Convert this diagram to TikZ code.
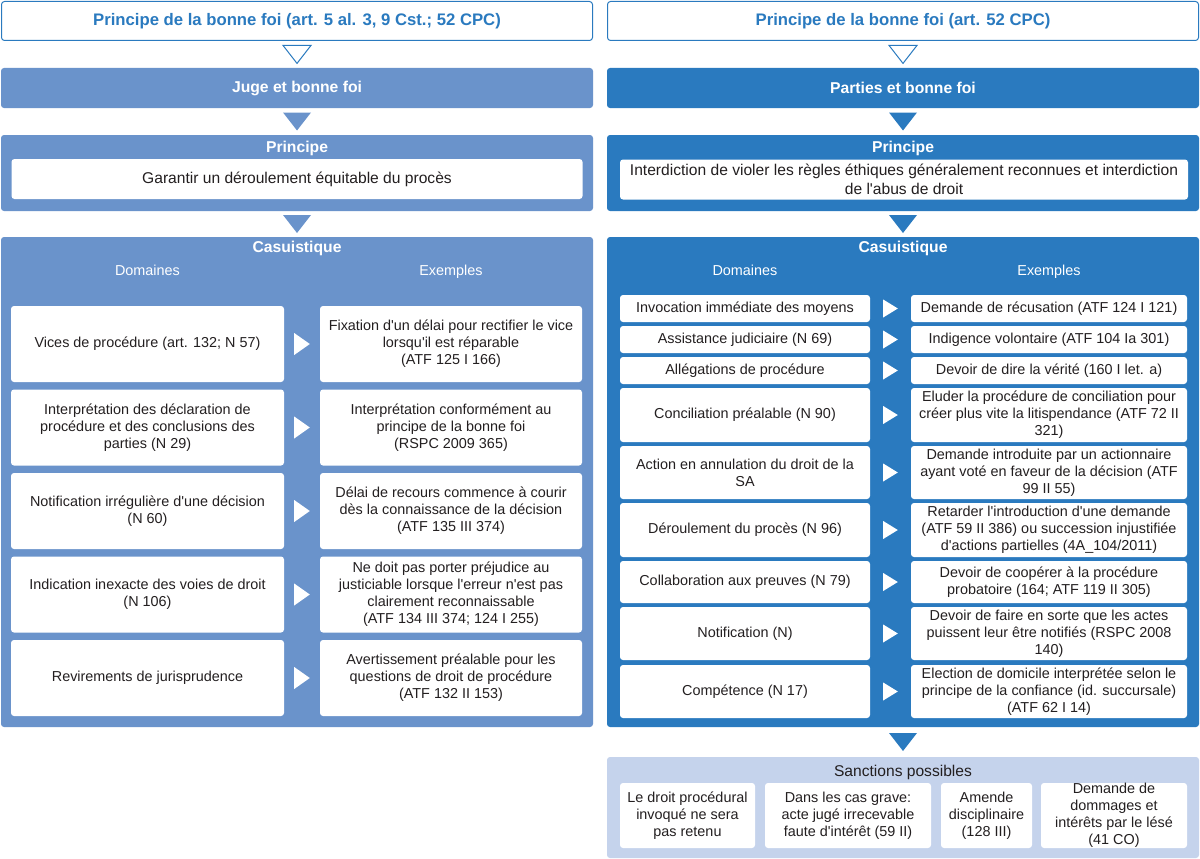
\documentclass[tikz,border=0pt]{standalone}
\usepackage{fontspec}
\setmainfont{Liberation Sans}[Ligatures=TeXOff]
\usetikzlibrary{calc}
\definecolor{bfmid}{RGB}{106,147,203}
\definecolor{bfdark}{RGB}{42,122,191}
\definecolor{bflight}{RGB}{197,211,236}
\definecolor{bftext}{RGB}{35,31,32}
\newcommand\tpfont{\fontsize{16.7}{19}\selectfont\bfseries}
\newcommand\hdfont{\fontsize{15.7}{18}\selectfont\bfseries}
\newcommand\prfont{\fontsize{15.6}{19.5}\selectfont}
\newcommand\bxfont{\fontsize{14.4}{17}\selectfont}
\tikzset{
  topbox/.style={draw=bfdark, line width=1pt, fill=white, rounded corners=3pt, text=bfdark,
    font=\tpfont, minimum width=591pt, minimum height=39pt, inner sep=0pt},
  panel/.style={fill=#1, rounded corners=3pt, inner sep=0pt, minimum width=592pt},
  wbox/.style={fill=white, rounded corners=3pt, inner sep=0pt, align=center, text=bftext, font=\bxfont},
  hd/.style={text=white, font=\hdfont, inner sep=0pt},
  sub/.style={text=white, font=\bxfont, inner sep=0pt, anchor=base},
}
\begin{document}
\begin{tikzpicture}[x=1pt,y=-1pt]
  \useasboundingbox (0,0) rectangle (1200,859);
  % colonne gauche : juge
  \node[topbox] (topL) at (297,21) {Principe de la bonne foi (art. 5 al. 3, 9 Cst.; 52 CPC)};
  \node[panel=bfmid, minimum height=40pt, hd] (jugeL) at (297,88) {Juge et bonne foi};
  \node[panel=bfmid, minimum height=76pt] (prL) at (297,173) {};
  \node[hd] (prtL) at (297,148) {Principe};
  \node[wbox, font=\prfont, minimum width=571pt, minimum height=40pt] (prxL) at (297,179) {Garantir un déroulement équitable du procès};
  \node[panel=bfmid, minimum height=490pt] (casL) at (297,482) {};
  \node[hd] (castL) at (297,248) {Casuistique};
  \node[sub] (domL) at (147.5,275) {Domaines};
  \node[sub] (exL) at (451,275) {Exemples};
  % cas : domaines et exemples
  \node[wbox, minimum width=273pt, minimum height=76pt] (dL1) at (147.5,344) {Vices de procédure (art. 132; N 57)};
  \node[wbox, minimum width=262pt, minimum height=76pt] (eL1) at (451,344) {Fixation d'un délai pour rectifier le vice\\lorsqu'il est réparable\\(ATF 125 I 166)};
  \node[wbox, minimum width=273pt, minimum height=76pt] (dL2) at (147.5,427.5) {Interprétation des déclaration de\\procédure et des conclusions des\\parties (N 29)};
  \node[wbox, minimum width=262pt, minimum height=76pt] (eL2) at (451,427.5) {Interprétation conformément au\\principe de la bonne foi\\(RSPC 2009 365)};
  \node[wbox, minimum width=273pt, minimum height=76pt] (dL3) at (147.5,511) {Notification irrégulière d'une décision\\(N 60)};
  \node[wbox, minimum width=262pt, minimum height=76pt] (eL3) at (451,511) {Délai de recours commence à courir\\dès la connaissance de la décision\\(ATF 135 III 374)};
  \node[wbox, minimum width=273pt, minimum height=76pt] (dL4) at (147.5,594.5) {Indication inexacte des voies de droit\\(N 106)};
  \node[wbox, minimum width=262pt, minimum height=76pt] (eL4) at (451,594.5) {Ne doit pas porter préjudice au\\justiciable lorsque l'erreur n'est pas\\clairement reconnaissable\\(ATF 134 III 374; 124 I 255)};
  \node[wbox, minimum width=273pt, minimum height=76pt] (dL5) at (147.5,678) {Revirements de jurisprudence};
  \node[wbox, minimum width=262pt, minimum height=76pt] (eL5) at (451,678) {Avertissement préalable pour les\\questions de droit de procédure\\(ATF 132 II 153)};

  % colonne droite : parties
  \node[topbox] (topR) at (903,21) {Principe de la bonne foi (art. 52 CPC)};
  \node[panel=bfdark, minimum height=40pt, hd] (partR) at (903,88) {Parties et bonne foi};
  \node[panel=bfdark, minimum height=76pt] (prR) at (903,173) {};
  \node[hd] (prtR) at (903,148) {Principe};
  \node[wbox, font=\prfont, minimum width=568pt, minimum height=40pt] (prxR) at (904,179.5) {Interdiction de violer les règles éthiques généralement reconnues et interdiction\\de l'abus de droit};
  \node[panel=bfdark, minimum height=490pt] (casR) at (903,482) {};
  \node[hd] (castR) at (903,248) {Casuistique};
  \node[sub] (domR) at (745,275) {Domaines};
  \node[sub] (exR) at (1049,275) {Exemples};
  \node[wbox, minimum width=250pt, minimum height=27pt] (dR1) at (745,308.5) {Invocation immédiate des moyens};
  \node[wbox, minimum width=276pt, minimum height=27pt] (eR1) at (1049,308.5) {Demande de récusation (ATF 124 I 121)};
  \node[wbox, minimum width=250pt, minimum height=27pt] (dR2) at (745,339.5) {Assistance judiciaire (N 69)};
  \node[wbox, minimum width=276pt, minimum height=27pt] (eR2) at (1049,339.5) {Indigence volontaire (ATF 104 Ia 301)};
  \node[wbox, minimum width=250pt, minimum height=27pt] (dR3) at (745,370.5) {Allégations de procédure};
  \node[wbox, minimum width=276pt, minimum height=27pt] (eR3) at (1049,370.5) {Devoir de dire la vérité (160 I let. a)};
  \node[wbox, minimum width=250pt, minimum height=54pt] (dR4) at (745,415) {Conciliation préalable (N 90)};
  \node[wbox, minimum width=276pt, minimum height=54pt] (eR4) at (1049,415) {Eluder la procédure de conciliation pour\\créer plus vite la litispendance (ATF 72 II\\321)};
  \node[wbox, minimum width=250pt, minimum height=53pt] (dR5) at (745,472.5) {Action en annulation du droit de la\\SA};
  \node[wbox, minimum width=276pt, minimum height=53pt] (eR5) at (1049,472.5) {Demande introduite par un actionnaire\\ayant voté en faveur de la décision (ATF\\99 II 55)};
  \node[wbox, minimum width=250pt, minimum height=54pt] (dR6) at (745,530) {Déroulement du procès (N 96)};
  \node[wbox, minimum width=276pt, minimum height=54pt] (eR6) at (1049,530) {Retarder l'introduction d'une demande\\(ATF 59 II 386) ou succession injustifiée\\d'actions partielles (4A\_104/2011)};
  \node[wbox, minimum width=250pt, minimum height=42pt] (dR7) at (745,582) {Collaboration aux preuves (N 79)};
  \node[wbox, minimum width=276pt, minimum height=42pt] (eR7) at (1049,582) {Devoir de coopérer à la procédure\\probatoire (164; ATF 119 II 305)};
  \node[wbox, minimum width=250pt, minimum height=53pt] (dR8) at (745,633.5) {Notification (N)};
  \node[wbox, minimum width=276pt, minimum height=53pt] (eR8) at (1049,633.5) {Devoir de faire en sorte que les actes\\puissent leur être notifiés (RSPC 2008\\140)};
  \node[wbox, minimum width=250pt, minimum height=53pt] (dR9) at (745,691.5) {Compétence (N 17)};
  \node[wbox, minimum width=276pt, minimum height=53pt] (eR9) at (1049,691.5) {Election de domicile interprétée selon le\\principe de la confiance (id. succursale)\\(ATF 62 I 14)};

  % sanctions
  \node[panel=bflight, minimum height=101pt] (sanR) at (903,807.5) {};
  \node[font=\prfont, text=bftext, inner sep=0pt] (santR) at (903,772) {Sanctions possibles};
  \node[wbox, minimum width=135pt, minimum height=65pt] (sa1) at (687.5,815.5) {Le droit procédural\\invoqué ne sera\\pas retenu};
  \node[wbox, minimum width=166pt, minimum height=65pt] (sa2) at (848,815.5) {Dans les cas grave:\\acte jugé irrecevable\\faute d'intérêt (59 II)};
  \node[wbox, minimum width=91pt, minimum height=65pt] (sa3) at (986.5,815.5) {Amende\\disciplinaire\\(128 III)};
  \node[wbox, minimum width=146pt, minimum height=65pt] (sa4) at (1114,815.5) {Demande de\\dommages et\\intérêts par le lésé\\(41 CO)};

  % fleches
  \draw[bfdark, fill=white, line width=1pt, line join=miter] ($(topL.south)!0.5!(jugeL.north)+(-14,-9)$) -- ++(28,0) -- ($(topL.south)!0.5!(jugeL.north)+(0,9)$) -- cycle;
  \draw[bfdark, fill=white, line width=1pt, line join=miter] ($(topR.south)!0.5!(partR.north)+(-14,-9)$) -- ++(28,0) -- ($(topR.south)!0.5!(partR.north)+(0,9)$) -- cycle;
  \foreach \a/\b/\c in {jugeL/prL/bfmid, prL/casL/bfmid, partR/prR/bfdark, prR/casR/bfdark, casR/sanR/bfdark}
    \fill[\c] ($(\a.south)!0.5!(\b.north)+(-14,-9)$) -- ++(28,0) -- ($(\a.south)!0.5!(\b.north)+(0,9)$) -- cycle;
  \foreach \i in {1,...,5}
    \fill[white] ($(dL\i.east)+(10,-11)$) -- ($(dL\i.east)+(10,11)$) -- ($(eL\i.west)+(-10,0)$) -- cycle;
  \foreach \i in {1,...,9}
    \fill[white] ($(dR\i.east)+(13,-9)$) -- ($(dR\i.east)+(13,9)$) -- ($(eR\i.west)+(-13,0)$) -- cycle;
\end{tikzpicture}
\end{document}
